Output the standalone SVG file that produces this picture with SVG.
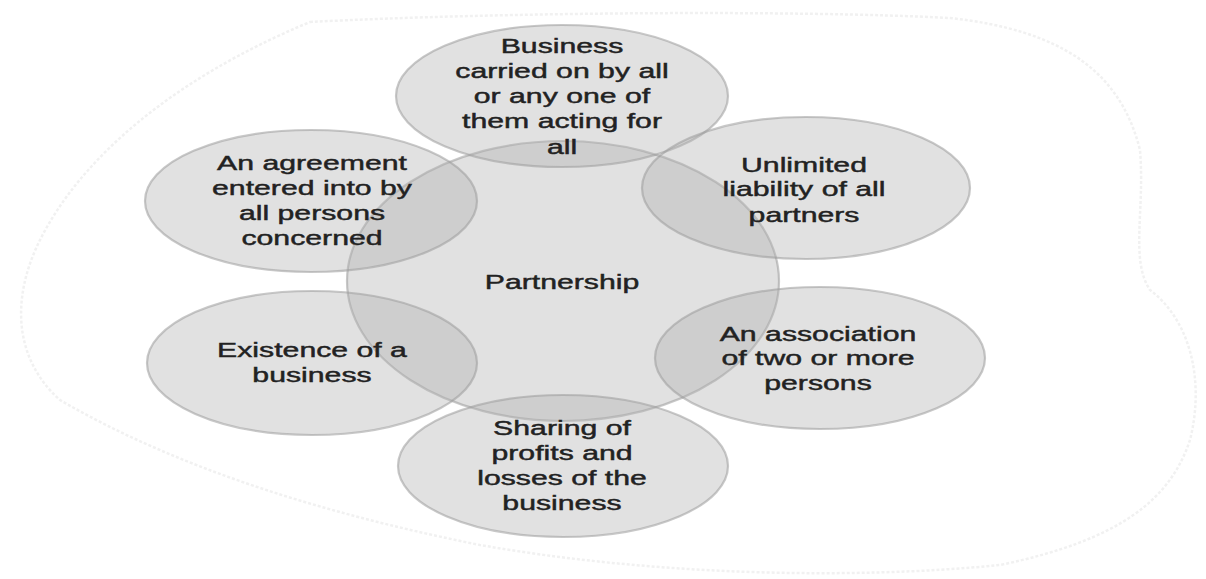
<svg xmlns="http://www.w3.org/2000/svg" width="1206" height="579" viewBox="0 0 1206 579">
<style>
.node ellipse{fill:#b0b0b0;fill-opacity:0.38;stroke:#9a9a9a;stroke-opacity:0.55;stroke-width:2.2}
.node text{font-family:"Liberation Sans",Arial,sans-serif;font-size:21px;fill:#222222;stroke:#222222;stroke-width:0.45;text-anchor:middle}
.blob{fill:none;stroke:#f1f1f1;stroke-width:2.5;stroke-dasharray:3 2}
</style>
<rect width="1206" height="579" fill="#ffffff"/>
<path class="blob" d="M310 22 C500 12 800 10 950 18 C1060 30 1120 70 1140 150 C1145 210 1130 260 1150 290 C1190 320 1205 380 1190 440 C1170 500 1120 540 1000 565 C850 580 650 575 480 545 C330 515 180 470 60 400 C15 360 10 300 40 240 C80 160 170 80 310 22 Z"/>
<g id="connectors"></g>
<g id="n-partnership" class="node">
<ellipse cx="563" cy="281" rx="216" ry="140"/>
<text transform="translate(562,289) scale(1.44,1)">Partnership</text>
</g>
<g id="n-business" class="node">
<ellipse cx="562" cy="96" rx="166" ry="71"/>
<text transform="translate(562,0) scale(1.44,1)"><tspan x="0" y="53">Business</tspan><tspan x="0" y="78">carried on by all</tspan><tspan x="0" y="103">or any one of</tspan><tspan x="0" y="128">them acting for</tspan><tspan x="0" y="154">all</tspan></text>
</g>
<g id="n-agreement" class="node">
<ellipse cx="311" cy="201" rx="166" ry="71"/>
<text transform="translate(312,0) scale(1.44,1)"><tspan x="0" y="170">An agreement</tspan><tspan x="0" y="195">entered into by</tspan><tspan x="0" y="220">all persons</tspan><tspan x="0" y="245">concerned</tspan></text>
</g>
<g id="n-unlimited" class="node">
<ellipse cx="806" cy="188" rx="164" ry="71"/>
<text transform="translate(804,0) scale(1.44,1)"><tspan x="0" y="172">Unlimited</tspan><tspan x="0" y="196">liability of all</tspan><tspan x="0" y="222">partners</tspan></text>
</g>
<g id="n-existence" class="node">
<ellipse cx="312" cy="363" rx="165" ry="72"/>
<text transform="translate(312,0) scale(1.44,1)"><tspan x="0" y="357">Existence of a</tspan><tspan x="0" y="382">business</tspan></text>
</g>
<g id="n-association" class="node">
<ellipse cx="820" cy="358" rx="165" ry="71"/>
<text transform="translate(818,0) scale(1.44,1)"><tspan x="0" y="341">An association</tspan><tspan x="0" y="365">of two or more</tspan><tspan x="0" y="390">persons</tspan></text>
</g>
<g id="n-sharing" class="node">
<ellipse cx="563" cy="466" rx="165" ry="71"/>
<text transform="translate(562,0) scale(1.44,1)"><tspan x="0" y="435">Sharing of</tspan><tspan x="0" y="460">profits and</tspan><tspan x="0" y="485">losses of the</tspan><tspan x="0" y="510">business</tspan></text>
</g>
</svg>
